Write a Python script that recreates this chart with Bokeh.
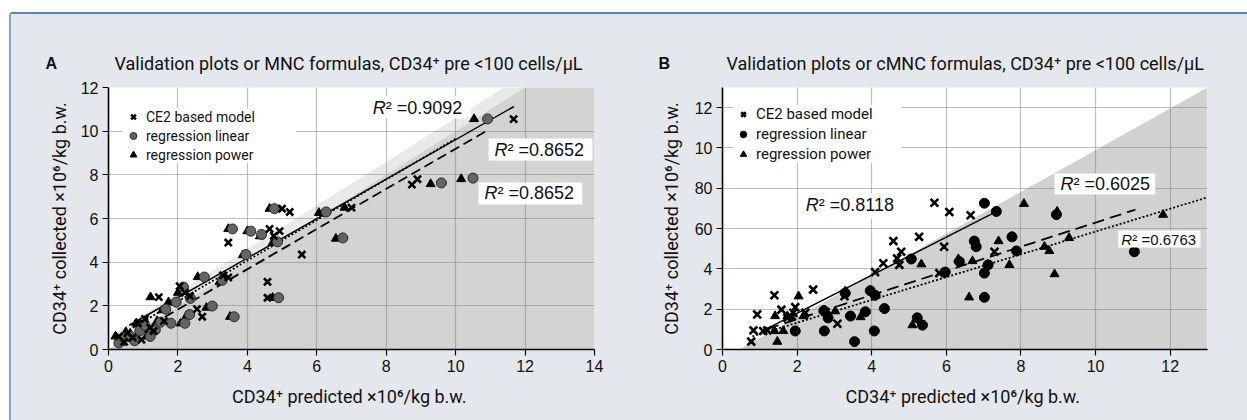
from bokeh.plotting import figure
from bokeh.layouts import row, column
from bokeh.models import (Label, BoxAnnotation, Legend, LegendItem, FixedTicker, Range1d)
from bokeh.core.properties import value
from bokeh.embed import file_html
from bokeh.resources import INLINE

# ---------------- data ----------------
# Panel A (MNC formulas)
ax_ce2 = [0.3, 0.45, 0.55, 0.7, 0.85, 0.95, 1.05, 1.2, 1.3, 1.45, 1.6, 2.05, 2.2, 2.35, 2.55, 2.7, 3.3, 3.45, 3.45, 4.58, 4.58, 4.64, 4.76, 4.93, 5.0, 5.22, 5.57, 7.0, 8.74, 8.9, 11.67]
ay_ce2 = [0.6, 0.35, 0.75, 0.55, 1.2, 0.45, 1.4, 1.0, 0.85, 2.4, 1.3, 2.9, 2.6, 2.45, 1.85, 1.5, 3.4, 3.3, 4.9, 3.1, 2.37, 5.52, 5.2, 5.42, 6.45, 6.3, 4.35, 6.5, 7.55, 7.8, 10.55]
ax_lin = [0.3, 0.45, 0.6, 0.75, 0.9, 1.05, 1.2, 1.35, 1.5, 1.65, 1.8, 1.95, 2.16, 2.2, 2.34, 2.36, 2.76, 2.99, 3.28, 3.57, 3.62, 3.96, 4.1, 4.41, 4.78, 4.87, 4.9, 6.27, 6.75, 9.59, 10.5, 10.92]
ay_lin = [0.3, 0.55, 0.65, 0.4, 0.85, 1.1, 0.6, 0.9, 1.25, 1.85, 1.2, 2.17, 2.86, 1.2, 1.6, 2.34, 3.32, 1.99, 3.17, 5.52, 1.5, 4.35, 5.42, 5.27, 6.45, 4.93, 2.37, 6.3, 5.11, 7.63, 7.85, 10.56]
ax_pow = [0.2, 0.35, 0.5, 0.65, 0.8, 0.95, 1.1, 1.21, 1.4, 1.55, 1.73, 2.0, 2.08, 2.25, 2.57, 2.82, 3.2, 3.45, 3.5, 3.87, 4.0, 4.36, 4.64, 4.73, 4.73, 6.06, 6.55, 6.8, 9.28, 10.16, 10.53]
ay_pow = [0.6, 0.3, 0.8, 0.5, 1.2, 0.9, 0.6, 2.4, 1.3, 1.8, 2.17, 2.6, 1.2, 1.55, 3.32, 1.92, 3.1, 5.52, 1.5, 4.32, 5.42, 5.19, 6.45, 4.89, 2.37, 6.26, 5.08, 6.5, 7.58, 7.81, 10.56]

# fitted lines panel A (endpoints)
a_fit_ce2_x = [0.6, 11.68]
a_fit_ce2_y = [1.11, 11.13]
a_fit_lin_x = [0.5, 10.91]
a_fit_lin_y = [0.46, 10.03]
a_fit_pow_x = [0.4, 10.04]
a_fit_pow_y = [0.72, 9.69]

# Panel B (cMNC formulas)
bx_ce2 = [0.77, 0.83, 0.93, 1.09, 1.2, 1.39, 1.58, 1.74, 1.9, 1.95, 2.22, 2.43, 3.08, 3.27, 4.09, 4.31, 4.58, 4.68, 4.74, 4.79, 5.27, 5.68, 5.81, 5.94, 6.08, 6.65, 7.29]
by_ce2 = [0.39, 0.95, 1.74, 0.92, 0.95, 2.69, 1.98, 1.57, 1.82, 2.1, 1.82, 2.97, 1.28, 2.64, 3.84, 4.28, 5.38, 4.52, 4.2, 4.85, 5.59, 7.28, 3.79, 5.1, 6.82, 6.66, 4.85]
bx_lin = [1.95, 2.72, 2.73, 2.83, 3.29, 3.43, 3.54, 3.83, 3.96, 4.07, 4.09, 4.34, 5.06, 5.22, 5.36, 5.97, 6.35, 6.75, 6.8, 7.02, 7.02, 7.02, 7.12, 7.34, 7.76, 7.88, 8.95, 11.04]
by_lin = [0.92, 1.93, 0.92, 1.57, 2.8, 1.66, 0.39, 1.87, 2.92, 0.92, 2.69, 2.03, 4.49, 1.57, 1.21, 3.84, 4.36, 5.38, 5.1, 3.79, 2.59, 7.26, 4.2, 6.85, 5.59, 4.89, 6.69, 4.85]
bx_pow = [1.39, 1.41, 1.47, 1.63, 1.74, 1.85, 2.04, 2.17, 2.78, 3.02, 3.29, 3.7, 5.09, 5.33, 6.32, 6.61, 6.7, 7.4, 7.69, 8.08, 8.63, 8.76, 8.9, 8.97, 9.29, 11.81]
by_pow = [0.92, 1.66, 0.39, 0.92, 1.66, 1.6, 2.64, 1.66, 1.9, 1.9, 2.89, 1.61, 1.21, 4.23, 4.49, 2.59, 4.39, 5.38, 4.2, 7.23, 5.1, 4.89, 3.74, 6.85, 5.54, 6.69]

b_fit_ce2_x = [1.1, 7.35]
b_fit_ce2_y = [0.95, 6.85]
b_fit_lin_x = [1.2, 11.07]
b_fit_lin_y = [1.02, 6.94]
b_fit_pow_x = [0.8, 13.0]
b_fit_pow_y = [0.65, 7.55]

a_xticks = [0, 2, 4, 6, 8, 10, 12, 14]
a_yticks = [0, 2, 4, 6, 8, 10, 12]
b_xticks = [0, 2, 4, 6, 8, 10, 12]
b_yticks = [0, 2, 4, 6, 8, 10, 12]
b_ytick_labels = {0: "0", 2: "2", 4: "4", 6: "60", 8: "80", 10: "10", 12: "12"}

legend_labels = ["CE2 based model", "regression linear", "regression power"]
panel_letters = ["A", "B"]
title_a = "Validation plots or MNC formulas, CD34\u207a pre <100 cells/\u00b5L"
title_b = "Validation plots or cMNC formulas, CD34\u207a pre <100 cells/\u00b5L"
xlabel = "CD34\u207a predicted  \u00d710\u2076/kg b.w."
ylabel = "CD34\u207a collected \u00d710\u2076/kg b.w."
r2_a = ["0.9092", "0.8652", "0.8652"]
r2_b = ["0.8118", "0.6025", "0.6763"]

# ---------------- styling ----------------
BG = "#e4e7eb"
NARROW = "Roboto"
SANS = "Liberation Sans"
HEAD_H = 60
FIG_H = 406


def header(w, letter, title, letter_x, title_x):
    h = figure(width=w, height=HEAD_H, x_range=Range1d(0, w), y_range=Range1d(0, HEAD_H),
               output_backend="svg", toolbar_location=None, x_axis_type=None,
               y_axis_type=None, min_border=0, frame_align=False)
    h.border_fill_color = BG
    h.background_fill_color = BG
    h.outline_line_color = None
    h.grid.visible = False
    h.text(x=[letter_x], y=[11], text=[letter], text_font=value(SANS), text_font_style="bold",
           text_font_size="16px", text_baseline="middle", text_color="#111111")
    h.text(x=[title_x], y=[11], text=[title], text_font=value(NARROW),
           text_font_size="18px", text_baseline="middle", text_color="#111111")
    return h


def base_fig(w, xmax, ymax, left, right, xticks, yticks):
    p = figure(width=w, height=FIG_H - HEAD_H, x_range=Range1d(0, xmax), y_range=Range1d(0, ymax),
               output_backend="svg", toolbar_location=None, frame_align=False,
               min_border_left=left, min_border_right=right,
               min_border_top=73 - HEAD_H, min_border_bottom=71)
    p.border_fill_color = BG
    p.background_fill_color = "white"
    p.outline_line_color = None
    for ax in (p.xaxis[0], p.yaxis[0]):
        ax.axis_line_color = "black"
        ax.axis_line_width = 1.6
        ax.major_tick_line_color = "black"
        ax.major_tick_line_width = 1.2
        ax.major_tick_out = 6
        ax.major_tick_in = 0
        ax.minor_tick_line_color = None
        ax.major_label_text_font = SANS
        ax.major_label_text_font_size = "16px"
        ax.major_label_text_color = "#111111"
        ax.major_label_standoff = 4
        ax.axis_label_text_font = NARROW
        ax.axis_label_text_font_size = "18px"
        ax.axis_label_text_font_style = "normal"
        ax.axis_label_text_color = "#111111"
    p.xaxis.ticker = FixedTicker(ticks=xticks)
    p.yaxis.ticker = FixedTicker(ticks=yticks)
    p.xaxis.axis_label = xlabel
    p.yaxis.axis_label = ylabel
    p.xaxis.axis_label_standoff = 11
    p.yaxis.axis_label_standoff = 8
    p.xgrid.ticker = FixedTicker(ticks=[t for t in xticks if 0 < t < xmax])
    p.ygrid.ticker = FixedTicker(ticks=[t for t in yticks if 0 < t < ymax])
    for g in (p.xgrid[0], p.ygrid[0]):
        g.grid_line_color = "#808080"
        g.grid_line_alpha = 0.5
        g.grid_line_width = 1.2
        g.level = "underlay"
    return p


def add_r2(p, x, y, val, size, box, xoff):
    p.add_layout(BoxAnnotation(left=box[0], right=box[1], bottom=box[2], top=box[3],
                               fill_color="white", fill_alpha=1, line_color=None))
    p.add_layout(Label(x=x, y=y, text="R", text_font=SANS, text_font_style="italic",
                       text_font_size=size, text_baseline="middle", text_color="#111111"))
    p.add_layout(Label(x=x, y=y, x_offset=xoff, text="\u00b2 =" + val, text_font=SANS,
                       text_font_size=size, text_baseline="middle", text_color="#111111"))


def add_legend(p, rends, loc, fs, h, lw):
    items = [LegendItem(label=l, renderers=[r]) for l, r in zip(legend_labels, rends)]
    lg = Legend(items=items, location=loc, background_fill_color="white",
                background_fill_alpha=1, border_line_color=None,
                label_text_font=NARROW, label_text_font_size=fs, label_text_color="#111111",
                glyph_width=20, glyph_height=h, label_height=h, label_standoff=3,
                padding=9, spacing=2, label_width=lw, margin=0)
    p.add_layout(lg)


# ---------------- Panel A ----------------
A_XMAX, A_YMAX = 14, 12
A_BAND = 0.6
pa = base_fig(609, A_XMAX, A_YMAX, 97, 26, a_xticks, a_yticks)
# soft band just above the identity line, then the shaded area below it
pa.patch([0, A_YMAX - A_BAND, A_YMAX, A_XMAX, A_XMAX], [A_BAND, A_YMAX, A_YMAX, A_YMAX, 0],
         fill_color="#e9e9e9", line_color=None, level="underlay")
pa.patch([0, A_YMAX, A_XMAX, A_XMAX], [0, A_YMAX, A_YMAX, 0], fill_color="#d3d3d3",
         line_color=None, level="underlay")
pa.line(a_fit_ce2_x, a_fit_ce2_y, line_color="black", line_width=1.5)
pa.line(a_fit_lin_x, a_fit_lin_y, line_color="black", line_width=1.8, line_dash="10 5")
pa.line(a_fit_pow_x, a_fit_pow_y, line_color="black", line_width=1.8, line_dash="2 2")
ra_pow = pa.scatter(ax_pow, ay_pow, marker="triangle", size=9, fill_color="black", line_color="black")
ra_lin = pa.scatter(ax_lin, ay_lin, marker="circle", size=10, fill_color="#646464", line_color="#2a2a2a", line_width=1)
ra_ce2 = pa.scatter(ax_ce2, ay_ce2, marker="x", size=10, line_color="black", line_width=2.6)
add_legend(pa, [ra_ce2, ra_lin, ra_pow], (15, 186), "14px", 17, 150)

add_r2(pa, 7.61, 11.08, r2_a[0], "18px", (7.49, 10.43, 10.59, 11.6), 13)
add_r2(pa, 11.12, 9.16, r2_a[1], "18px", (10.95, 13.94, 8.66, 9.66), 13)
add_r2(pa, 10.83, 7.15, r2_a[2], "18px", (10.66, 13.65, 6.64, 7.65), 13)

ha = header(609, panel_letters[0], title_a, 34, 103)

# ---------------- Panel B ----------------
B_XMAX, B_YMAX = 13, 13
B_OFF = 0.45
pb = base_fig(627, B_XMAX, B_YMAX, 102, 40, b_xticks, b_yticks)
pb.yaxis.major_label_overrides = b_ytick_labels
pb.yaxis.axis_label_standoff = 10
pb.patch([B_OFF, B_XMAX, B_XMAX], [0, B_YMAX, 0], fill_color="#d1d1d1",
         line_color=None, level="underlay")
pb.line(b_fit_ce2_x, b_fit_ce2_y, line_color="black", line_width=1.5)
pb.line(b_fit_lin_x, b_fit_lin_y, line_color="black", line_width=1.8, line_dash="12 6")
pb.line(b_fit_pow_x, b_fit_pow_y, line_color="black", line_width=1.8, line_dash="2 2")
rb_pow = pb.scatter(bx_pow, by_pow, marker="triangle", size=9, fill_color="black", line_color="black")
rb_lin = pb.scatter(bx_lin, by_lin, marker="circle", size=10, fill_color="black", line_color="black")
rb_ce2 = pb.scatter(bx_ce2, by_ce2, marker="x", size=11, line_color="black", line_width=2.6)
add_legend(pb, [rb_ce2, rb_lin, rb_pow], (11, 186), "15px", 16, 146)

add_r2(pb, 2.23, 7.15, r2_b[0], "18px", (2.09, 4.82, 6.5, 7.74), 13)
add_r2(pb, 9.06, 8.19, r2_b[1], "18px", (8.9, 11.6, 7.69, 8.73), 13)
add_r2(pb, 10.69, 5.48, r2_b[2], "15px", (10.61, 12.81, 5.06, 5.9), 11)

hb = header(627, panel_letters[1], title_b, 38, 106)

layout = row(column(ha, pa), column(hb, pb), margin=(12, 0, 0, 9),
             styles={"background-color": BG, "border-top": "2px solid #5b87b8",
                     "border-left": "2px solid #8aa6c4", "border-top-left-radius": "3px"})

open("out.html", "w").write(file_html(layout, INLINE))
